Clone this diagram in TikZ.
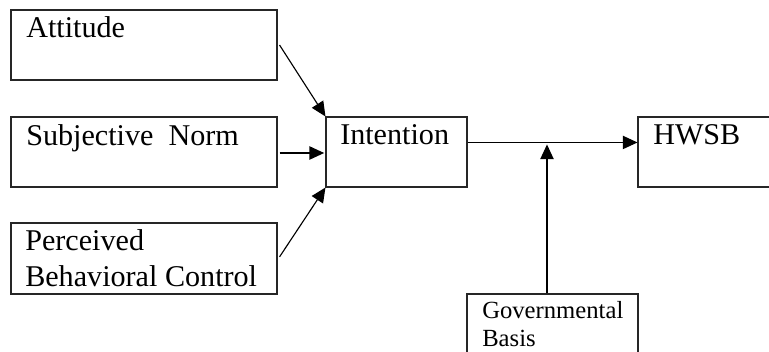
\documentclass[tikz,border=0pt]{standalone}
\usepackage{fontspec}
\setmainfont{Liberation Serif}
\usetikzlibrary{arrows.meta,calc}
\begin{document}
\begin{tikzpicture}[x=0.75pt,y=-0.75pt,
  box/.style={draw=black!85,line width=0.8pt,rectangle,inner sep=0pt},
  big/.style={anchor=base west,inner sep=0pt,font=\fontsize{22.6}{27}\selectfont},
  small/.style={anchor=base west,inner sep=0pt,font=\fontsize{18.5}{22}\selectfont},
  conn/.style={line width=0.85pt,-{Triangle[length=11pt,width=10pt]}}]
\useasboundingbox (0,0) rectangle (769,352);
\clip (0,0) rectangle (769,352);
% boxes
\node[box,minimum width=199.5pt,minimum height=52.5pt] (att) at (144,45) {};
\node[box,minimum width=199.5pt,minimum height=52.5pt] (sub) at (144,152) {};
\node[box,minimum width=199.5pt,minimum height=53.25pt] (perc) at (144,258.5) {};
\node[box,minimum width=105.75pt,minimum height=52.5pt] (int) at (396.5,152) {};
\node[box,minimum width=114pt,minimum height=52.5pt] (hwsb) at (714,152) {};
\node[box,minimum width=128.25pt,minimum height=57pt] (gov) at (552.5,332) {};
% texts
\node[big] (tatt) at (26,37.5) {Attitude};
\node[big] (tsub) at (26,146) {Subjective\ \ Norm};
\node[big] (tperc1) at (25,251) {Perceived};
\node[big] (tperc2) at (25,287) {Behavioral Control};
\node[big] (tint) at (340,145) {Intention};
\node[big] (thwsb) at (653,145) {HWSB};
\node[small] (tgov1) at (482,319) {Governmental};
\node[small] (tgov2) at (482,347) {Basis};
% connectors
\coordinate (lstart) at ($(int.north east)+(0,26)$);
\coordinate (lend) at (lstart -| hwsb.west);
\coordinate (gtop) at ($(gov.north)+(-5.5,0)$);
\draw[conn] ([xshift=1.5pt]att.east) -- (int.north west);
\draw[conn] ([xshift=1.5pt,yshift=-0.75pt]sub.east) -- ([xshift=-1pt,yshift=-0.75pt]int.west);
\draw[conn] ([xshift=1.5pt,yshift=1.2pt]perc.east) -- (int.south west);
\draw[conn] (lstart) -- (lend);
\draw[conn] (gtop) -- ($(gtop |- lstart)+(0,2)$);
\end{tikzpicture}
\end{document}
